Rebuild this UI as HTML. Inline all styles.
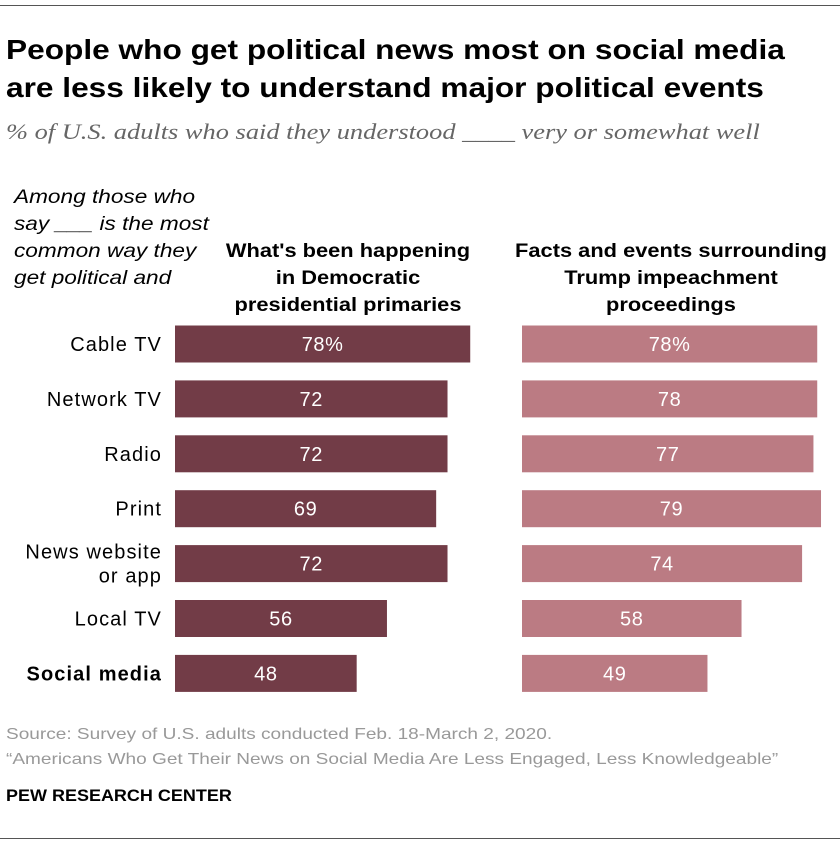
<!DOCTYPE html>
<html><head><meta charset="utf-8"><style>
body{margin:0;background:#fff;width:840px;height:844px;position:relative;font-family:"Liberation Sans",sans-serif;overflow:hidden}
.abs{position:absolute;white-space:nowrap}
</style></head><body>
<div class="abs" style="left:0;top:5px;width:840px;height:1px;background:#555"></div>
<div class="abs" style="left:6px;top:31px;font-size:28px;font-weight:bold;line-height:38px;color:#000;transform:scaleX(1.13);transform-origin:0 0">People who get political news most on social media<br>are less likely to understand major political events</div>
<div class="abs" style="left:6px;top:119px;font-family:'Liberation Serif',serif;font-style:italic;font-size:22px;color:#666;transform:scaleX(1.2);transform-origin:0 0">% of U.S. adults who said they understood ____ very or somewhat well</div>
<div class="abs" style="left:14px;top:184px;font-style:italic;font-size:19.5px;line-height:27px;color:#000;transform:scaleX(1.16);transform-origin:0 0">Among those who<br>say ___ is the most<br>common way they<br>get political and</div>
<div class="abs" style="left:198px;top:238px;width:300px;text-align:center;font-weight:bold;font-size:19.5px;line-height:27px;transform:scaleX(1.12);transform-origin:50% 0">What's been happening<br>in Democratic<br>presidential primaries</div>
<div class="abs" style="left:506px;top:238px;width:330px;text-align:center;font-weight:bold;font-size:19.5px;line-height:27px;transform:scaleX(1.12);transform-origin:50% 0">Facts and events surrounding<br>Trump impeachment<br>proceedings</div>
<svg class="abs" style="left:0;top:0" width="840" height="844" id="chart"></svg>
<div class="abs" style="left:6px;top:722px;font-size:16px;line-height:25px;color:#999;transform:scaleX(1.19);transform-origin:0 0">Source: Survey of U.S. adults conducted Feb. 18-March 2, 2020.<br>“Americans Who Get Their News on Social Media Are Less Engaged, Less Knowledgeable”</div>
<div class="abs" style="left:6px;top:787px;font-size:16.5px;font-weight:bold;color:#000;transform:scaleX(1.09);transform-origin:0 0">PEW RESEARCH CENTER</div>
<div class="abs" style="left:0;top:838px;width:840px;height:1px;background:#555"></div>
<script>
const categories=["Cable TV","Network TV","Radio","Print","News website\nor app","Local TV","Social media"];
const primaries=[78,72,72,69,72,56,48];
const impeachment=[78,78,77,79,74,58,49];
const svg=document.getElementById('chart');
const NS='http://www.w3.org/2000/svg';
const scale=v=>v*3.785;
const rowY=i=>344+i*54.9;
function mk(t,a){const e=document.createElementNS(NS,t);for(const k in a)e.setAttribute(k,a[k]);svg.appendChild(e);return e;}
categories.forEach((c,i)=>{
  const y=rowY(i);
  const lines=c.split("\n");
  const t=mk('text',{x:162,y:y+7-(lines.length-1)*12,'text-anchor':'end','font-size':20,'letter-spacing':1.1,'font-family':'Liberation Sans, sans-serif','font-weight':i==6?'bold':'normal',fill:'#000'});
  
  
  lines.forEach((l,j)=>{const s=document.createElementNS(NS,'tspan');s.setAttribute('x',162);if(j)s.setAttribute('dy',24);s.textContent=l;t.appendChild(s);});
  [[175,primaries,'#723c47','primaries'],[522,impeachment,'#bb7b83','impeachment']].forEach(([x0,arr,col,nm])=>{
    const w=scale(arr[i]);
    const r=mk('rect',{x:x0,y:y-18.5,width:w,height:37,fill:col});
    
    
    const l=mk('text',{x:x0+w/2,y:y+7,'text-anchor':'middle','font-size':20,'letter-spacing':0.6,'font-family':'Liberation Sans, sans-serif',fill:'#fff'});
    
    
    l.textContent=arr[i]+(i==0?'%':'');
  });
});
</script>
</body></html>
